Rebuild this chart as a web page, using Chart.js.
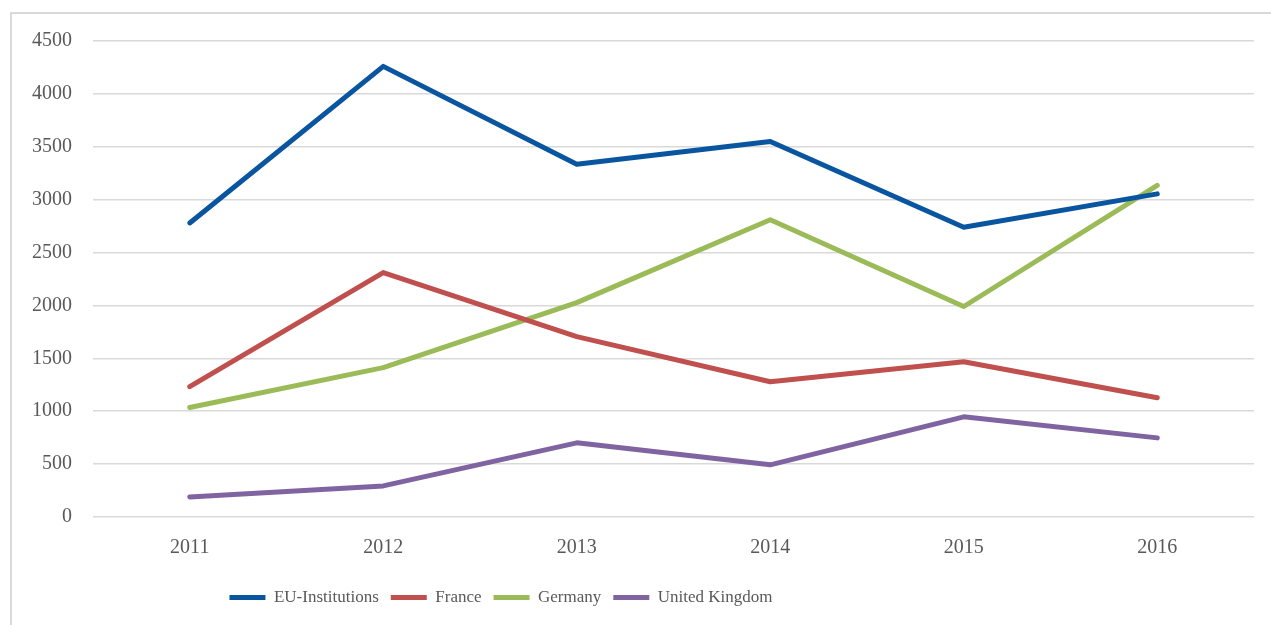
<!DOCTYPE html>
<html>
<head>
<meta charset="utf-8">
<script src="https://cdn.jsdelivr.net/npm/chart.js@4"></script>
<style>
  body { margin: 0; background: #fff; overflow: hidden; }
  #frame { position: absolute; left: 10px; top: 12px; width: 1300px; height: 700px; border: 2px solid #d9d9d9; box-sizing: border-box; }
  #wrap { position: absolute; left: 0; top: 0; width: 1271px; height: 625px; }
</style>
</head>
<body>
<div id="frame"></div>
<div id="wrap"><canvas id="chartLineas"></canvas></div>
<script>
const anios = ['2011', '2012', '2013', '2014', '2015', '2016'];
const euInstitutions = [2780, 4260, 3335, 3550, 2740, 3055];
const france = [1232, 2311, 1705, 1279, 1468, 1127];
const germany = [1035, 1412, 2027, 2810, 1990, 3136];
const unitedKingdom = [190, 294, 701, 493, 947, 748];

const familia = "'Liberation Serif', 'DejaVu Serif', serif";
const gris = '#595959';

function serie(label, data, color) {
    return {
        label: label,
        data: data,
        borderColor: color,
        backgroundColor: color,
        borderWidth: 5,
        borderCapStyle: 'round',
        borderJoinStyle: 'round',
        pointRadius: 0,
        pointHoverRadius: 0,
        tension: 0,
        fill: false
    };
}

// la leyenda del original no esta centrada en el lienzo
const moverLeyenda = {
    id: 'moverLeyenda',
    afterLayout(chart) {
        const lg = chart.legend;
        if (!lg) return;
        const desp = 501 - (lg.left + lg.right) / 2;
        lg.left += desp;
        lg.right += desp;
    }
};

const ctx = document.getElementById('chartLineas').getContext('2d');
new Chart(ctx, {
    type: 'line',
    data: {
        labels: anios,
        datasets: [
            serie('EU-Institutions', euInstitutions, '#0a559f'),
            serie('France', france, '#c0504d'),
            serie('Germany', germany, '#9bbb59'),
            serie('United Kingdom', unitedKingdom, '#8064a2')
        ]
    },
    plugins: [moverLeyenda],
    options: {
        responsive: true,
        maintainAspectRatio: false,
        animation: false,
        layout: { padding: { top: 41, right: 17, bottom: 9, left: 0 } },
        plugins: {
            tooltip: { enabled: false },
            legend: {
                position: 'bottom',
                labels: {
                    usePointStyle: true,
                    pointStyle: 'line',
                    pointStyleWidth: 36,
                    padding: 12,
                    color: gris,
                    font: { family: familia, size: 17 }
                }
            }
        },
        scales: {
            x: {
                offset: true,
                grid: { display: false },
                border: { display: false },
                ticks: { color: gris, font: { family: familia, size: 20 }, padding: 11 },
                afterFit: scale => { scale.height = 60; }
            },
            y: {
                min: 0,
                max: 4500,
                ticks: {
                    stepSize: 500,
                    color: gris,
                    font: { family: familia, size: 20 },
                    padding: 21,
                    callback: v => String(v)
                },
                grid: { color: '#d9d9d9', lineWidth: 1.5, drawTicks: false },
                border: { display: false },
                afterFit: scale => { scale.width = 93; }
            }
        }
    }
});
</script>
</body>
</html>
